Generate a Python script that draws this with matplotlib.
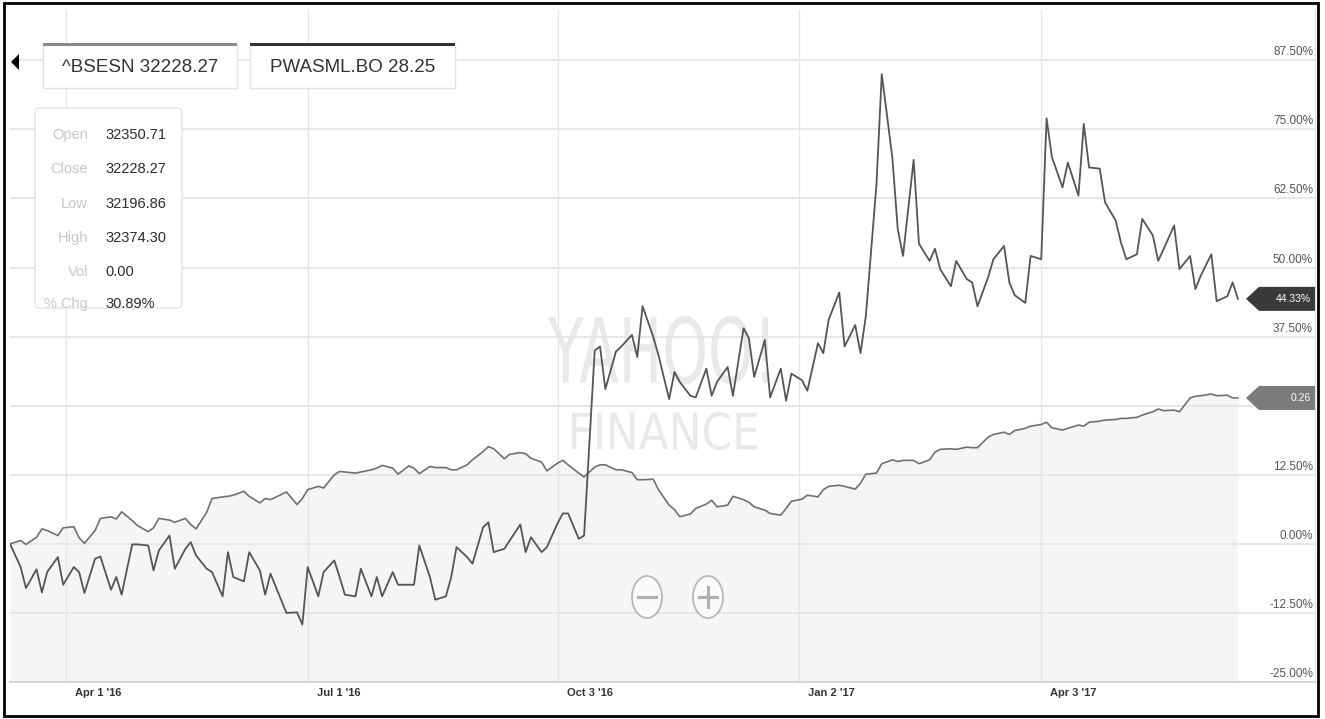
import numpy as np
import pandas as pd
import matplotlib
matplotlib.use('Agg')
import matplotlib.pyplot as plt
import matplotlib.patches as patches
import matplotlib.transforms as mtransforms
from matplotlib.textpath import TextPath
from matplotlib.font_manager import FontProperties

# % change from start, one value every second trading day from 11 Mar 2016
bsesn_pct = [
    0.0, 0.6, -0.1, 1.2, 2.7, 2.4, 1.5, 2.9, 3.1, 1.1, 0.1, 2.4, 4.6, 4.9, 4.5, 5.8, 4.2,
    3.3, 2.2, 2.9, 4.6, 4.3, 3.9, 4.6, 3.5, 2.7, 5.7, 8.2, 8.5, 8.6, 8.8, 9.5, 8.6,
    7.4, 8.2, 8.0, 8.9, 9.4, 7.1, 8.2, 9.8, 10.4, 10.1, 12.5, 13.1, 13.0, 12.8, 13.0, 13.4,
    13.7, 14.2, 13.7, 12.6, 14.1, 13.7, 12.7, 14.0, 13.8, 13.8, 13.4, 13.4, 14.3, 15.2, 16.7, 17.6,
    17.2, 15.4, 16.2, 16.5, 16.3, 15.5, 14.8, 13.2, 14.6, 15.1, 14.3, 12.8, 12.1, 13.9, 14.3, 14.3,
    13.4, 13.4, 12.9, 11.6, 11.6, 11.7, 9.8, 7.0, 6.2, 4.9, 5.4, 6.4, 7.2, 7.9, 6.7, 7.0, 8.6, 8.0,
    7.5, 6.7, 6.1, 5.5, 5.2, 6.4, 7.7, 8.1, 8.8, 8.5, 9.8, 10.4, 10.6, 10.4, 9.9, 11.0, 12.6,
    12.8, 14.5, 15.2, 14.9, 15.1, 15.1, 14.5, 15.2, 16.6, 17.1, 17.2, 17.1, 17.5, 17.4, 17.4, 19.3,
    19.8, 20.2, 19.8, 20.5, 20.9, 21.3, 21.6, 22.0, 21.0, 20.6, 20.9, 21.5, 21.3, 22.0, 22.2, 22.4,
    22.5, 22.7, 22.7, 22.9, 23.3, 23.9, 24.4, 24.1, 24.2, 23.9, 26.4, 26.7, 26.8, 27.1, 26.8, 26.9,
    26.4, 26.4,
]
pwasml_pct = [
    0.0, -4.2, -8.0, -4.6, -8.8, -5.1, -2.4, -7.4, -4.2, -5.1, -8.9, -2.7, -2.3, -8.3, -6.0, -9.2,
    -0.1, -0.1, -0.3, -4.8, -1.2, 1.5, -4.5, -0.9, 0.3, -2.1, -4.5, -5.1, -9.5, -1.5, -6.0, -6.8, -1.5,
    -4.8, -9.2, -5.4, -10.1, -12.5, -12.4, -14.6, -4.2, -9.5, -5.1, -3.0, -6.0, -9.2, -9.5, -4.5, -9.5,
    -6.0, -9.5, -5.1, -7.4, -7.4, -7.4, -0.3, -6.0, -10.1, -9.5, -6.0, -0.6, -2.4, -3.6, 3.0, 3.9,
    -1.5, -0.9, 0.6, 3.5, -1.5, 1.2, -1.5, -0.6, 3.7, 5.5, 5.5, 0.9, 1.5, 35.0, 35.7, 28.0, 34.8,
    35.7, 37.8, 33.8, 43.0, 37.5, 34.1, 26.2, 31.1, 29.3, 26.8, 26.5, 31.7, 26.8, 29.3, 32.0, 26.8, 39.0,
    37.2, 30.2, 36.9, 26.5, 31.7, 25.9, 30.8, 29.6, 27.7, 36.3, 34.5, 40.5, 45.5, 35.7, 39.6, 34.5, 41.2,
    65.0, 85.0, 69.8, 57.0, 52.1, 69.5, 54.3, 51.2, 53.4, 49.7, 46.6, 51.2, 47.9, 47.3, 43.0, 48.2,
    51.5, 53.9, 47.3, 45.0, 43.6, 52.1, 51.5, 77.0, 70.0, 64.5, 69.0, 63.0, 76.0, 68.1, 67.9, 61.8,
    58.5, 54.5, 51.5, 52.4, 58.8, 55.8, 51.2, 53.3, 57.6, 49.7, 52.1, 46.1, 48.5, 52.4, 43.9, 44.8,
    47.3, 44.33,
]
start_day = '2016-03-11'
end_day = '2017-07-15'
tick_dates = ['2016-04-01', '2016-07-01', '2016-10-03', '2017-01-02', '2017-04-03']
tick_labels = ["Apr 1 '16", "Jul 1 '16", "Oct 3 '16", "Jan 2 '17", "Apr 3 '17"]
# 25.00% sits under the 0.26 tag in the original, so it is not listed
y_ticks = [-25, -12.5, 0, 12.5, 37.5, 50, 62.5, 75, 87.5]
grid_levels = [-25, -12.5, 0, 12.5, 25, 37.5, 50, 62.5, 75, 87.5]
ohlc_names = ['Open', 'Close', 'Low', 'High', 'Vol', '% Chg']
ohlc_values = ['32350.71', '32228.27', '32196.86', '32374.30', '0.00', '30.89%']
legend_tabs = ['^BSESN 32228.27', 'PWASML.BO 28.25']
last_tags = ['0.26', '44.33%']

dates = pd.bdate_range(start_day, periods=2 * len(bsesn_pct))[::2]

FONT = 'Liberation Sans'
plt.rcParams['font.family'] = [FONT, 'DejaVu Sans']

W, H = 1325, 719
fig = plt.figure(figsize=(W / 100, H / 100), dpi=100)
fig.patch.set_facecolor('white')
ax = fig.add_axes([10 / W, 1 - 682 / H, 1305 / W, 672 / H])
ax.set_xlim(pd.Timestamp(start_day), pd.Timestamp(end_day))
ax.set_ylim(-25, 96.6)
ax.set_xticks([])
ax.set_yticks([])
for s in ['top', 'left']:
    ax.spines[s].set_visible(False)
ax.spines['right'].set_color('#e2e2e2')
ax.spines['bottom'].set_color('#cfcfcf')
ax.spines['bottom'].set_linewidth(1.2)

# grid
for v in grid_levels:
    ax.axhline(v, color='#e3e3e3', lw=1.2, zorder=1)
for d in tick_dates:
    ax.axvline(pd.Timestamp(d), color='#e6e6e6', lw=1.0, zorder=1)

# area under the index
ax.fill_between(dates, bsesn_pct, -25, color='#f5f5f5', lw=0, zorder=0.5)


# watermark, squeezed into the box it takes in the original
def watermark(text, x0, x1, ytop, ybot):
    tp = TextPath((0, 0), text, size=1, prop=FontProperties(family='DejaVu Sans'))
    ext = tp.get_extents()
    tr = (mtransforms.Affine2D().translate(-ext.x0, -ext.y0)
          .scale((x1 - x0) / ext.width, (ybot - ytop) / ext.height)
          .translate(x0, H - ybot))
    ax.add_patch(patches.PathPatch(tp, transform=tr, facecolor='#e9e9e9', edgecolor='none', zorder=0.8))


watermark('YAHOO!', 548, 768, 316, 384)
watermark('FINANCE', 572, 757, 412, 450)

ax.plot(dates, bsesn_pct, color='#707070', lw=1.2, zorder=3)
ax.plot(dates, pwasml_pct, color='#555555', lw=1.3, zorder=3)

# right value labels
ylab_tr = mtransforms.offset_copy(mtransforms.blended_transform_factory(ax.transAxes, ax.transData),
                                  fig=fig, x=-2, y=2, units='dots')
for v in y_ticks:
    ax.text(1.0, v, f'{v:.2f}%', transform=ylab_tr, ha='right', va='bottom',
            fontsize=8.5, color='#555555', zorder=4)

# date labels
xlab_tr = mtransforms.offset_copy(ax.get_xaxis_transform(), fig=fig, x=9, y=-11, units='dots')
for d, lab in zip(tick_dates, tick_labels):
    ax.text(pd.Timestamp(d), 0, lab, transform=xlab_tr, ha='left', va='center',
            fontsize=8, weight='bold', color='#333333', clip_on=False)

ident = mtransforms.IdentityTransform()


def px(x, y):
    return (x, H - y)


# last value tags
for val, txt, col in [(bsesn_pct[-1], last_tags[0], '#7b7b7b'), (pwasml_pct[-1], last_tags[1], '#3a3a3a')]:
    yc = ax.transData.transform((0, val))[1]
    xl, xb, xr, hh = 1246, 1259, 1315, 12
    poly = patches.Polygon([(xl, yc), (xb, yc + hh), (xr, yc + hh), (xr, yc - hh), (xb, yc - hh)],
                           closed=True, facecolor=col, edgecolor='none', transform=ident, zorder=10)
    fig.add_artist(poly)
    fig.text(1311 / W, yc / H, txt, ha='right', va='center', fontsize=7.5,
             color='white', zorder=11)

# legend tabs
for lab, x0, x1, bar in zip(legend_tabs, [43, 250], [237, 455], ['#8a8a8a', '#333333']):
    fig.add_artist(patches.Rectangle(px(x0, 88), x1 - x0, 43, transform=ident, facecolor='white',
                                     edgecolor='#e2e2e2', lw=1.0, zorder=10))
    fig.add_artist(patches.Rectangle(px(x0, 46), x1 - x0, 3, transform=ident, facecolor=bar,
                                     edgecolor='none', zorder=11))
    fig.text((x0 + x1) / 2 / W, 1 - 68 / H, lab, ha='center', va='center', fontsize=13.5,
             color='#333333', zorder=12)

# back arrow
fig.add_artist(patches.Polygon([px(11, 62), px(19, 54), px(19, 70)], closed=True, facecolor='black',
                               edgecolor='none', transform=ident, zorder=10))

# OHLC box
fig.add_artist(patches.FancyBboxPatch(px(35, 308), 147, 200, boxstyle='round,pad=0,rounding_size=5',
                                      transform=ident, facecolor='white', edgecolor='#e3e3e3',
                                      lw=1.0, zorder=10))
for name, val, yy in zip(ohlc_names, ohlc_values, [135, 169, 204, 238, 272, 304]):
    fig.text(88 / W, 1 - yy / H, name, ha='right', va='center', fontsize=10.5,
             color='#c8c8c8', zorder=12)
    fig.text(105 / W, 1 - yy / H, val, ha='left', va='center', fontsize=10.5,
             color='#2b2b2b', zorder=12)

# zoom buttons
for cx in [647, 708]:
    fig.add_artist(patches.Ellipse(px(cx, 597), 30, 42, transform=ident, facecolor='#fafafa',
                                   edgecolor='#b8b8b8', lw=1.3, zorder=10))
    fig.add_artist(plt.Line2D([cx - 9, cx + 9], [H - 597, H - 597], transform=ident,
                              color='#b0b0b0', lw=2.2, zorder=11))
fig.add_artist(plt.Line2D([708, 708], [H - 587, H - 607], transform=ident, color='#b0b0b0',
                          lw=2.2, zorder=11))

# outer frame
fig.add_artist(patches.Rectangle((4, 3), 1314, 713, transform=ident, facecolor='none',
                                 edgecolor='black', lw=2.0, zorder=20))

fig.savefig('out.png', dpi=100, facecolor='white')
